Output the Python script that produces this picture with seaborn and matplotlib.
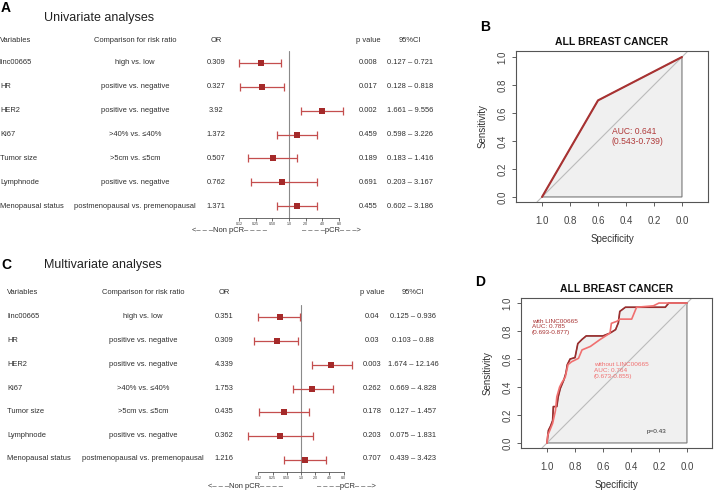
import numpy as np
import pandas as pd
import matplotlib
matplotlib.use("Agg")
import matplotlib.pyplot as plt
import seaborn as sns

# ---- data ----
variables = ["linc00665", "HR", "HER2", "Ki67", "Tumor size", "Lymphnode", "Menopausal status"]
comparisons = ["high vs. low", "positive vs. negative", "positive vs. negative",
               ">40% vs. \u226440%", ">5cm vs. \u22645cm", "positive vs. negative",
               "postmenopausal vs. premenopausal"]

uni_or = [0.309, 0.327, 3.92, 1.372, 0.507, 0.762, 1.371]
uni_lo = [0.127, 0.128, 1.661, 0.598, 0.183, 0.203, 0.602]
uni_hi = [0.721, 0.818, 9.556, 3.226, 1.416, 3.167, 3.186]
uni_p = ["0.008", "0.017", "0.002", "0.459", "0.189", "0.691", "0.455"]

multi_or = [0.351, 0.309, 4.339, 1.753, 0.435, 0.362, 1.216]
multi_lo = [0.125, 0.103, 1.674, 0.669, 0.127, 0.075, 0.439]
multi_hi = [0.936, 0.88, 12.146, 4.828, 1.457, 1.831, 3.423]
multi_p = ["0.04", "0.03", "0.003", "0.262", "0.178", "0.203", "0.707"]

or_ticks = [0.125, 0.25, 0.5, 1, 2, 4, 8]
or_tick_labels = ["0.12", "0.25", "0.50", "1.0", "2.0", "4.0", "8.0"]

# ROC panel B
b_spec = [1.0, 0.6, 0.0]
b_sens = [0.0, 0.69, 1.0]

# ROC panel D
with_spec = [1.0, 0.99, 0.975, 0.96, 0.955, 0.93, 0.92, 0.905, 0.88, 0.865, 0.855,
             0.835, 0.80, 0.78, 0.75, 0.72, 0.60, 0.55, 0.51, 0.49, 0.48, 0.44,
             0.36, 0.155, 0.13, 0.0]
with_sens = [0.0, 0.09, 0.12, 0.16, 0.26, 0.26, 0.33, 0.39, 0.45, 0.50, 0.56,
             0.60, 0.61, 0.71, 0.74, 0.765, 0.765, 0.785, 0.81, 0.86, 0.94, 0.97,
             0.97, 0.97, 1.0, 1.0]
without_spec = [1.0, 0.995, 0.98, 0.96, 0.94, 0.93, 0.91, 0.895, 0.87, 0.85, 0.825,
                0.775, 0.75, 0.69, 0.62, 0.55, 0.54, 0.50, 0.48, 0.395, 0.36, 0.24,
                0.20, 0.0]
without_sens = [0.0, 0.055, 0.09, 0.14, 0.23, 0.33, 0.40, 0.43, 0.47, 0.56, 0.58,
                0.605, 0.665, 0.69, 0.74, 0.785, 0.855, 0.87, 0.885, 0.885, 0.97, 0.98,
                1.0, 1.0]

# ---- style ----
sns.set_theme(style="white")
plt.rcParams["font.family"] = ["Liberation Sans", "DejaVu Sans"]

W, H = 714, 493
fig = plt.figure(figsize=(W / 100, H / 100), dpi=100)

TXT = "#2e2e2e"
MARK = "#a52a2a"
CI = "#c44e4e"
DARK = "#a83232"
LIGHT = "#f07070"


def fx(px):
    return px / W


def fy(py):
    return 1 - py / H


def t(px, py, s, **kw):
    kw.setdefault("va", "center")
    kw.setdefault("color", TXT)
    fig.text(fx(px), fy(py), s, **kw)


def rect(left, top, right, bottom):
    return [fx(left), fy(bottom), (right - left) / W, (bottom - top) / H]


def forest_panel(letter, title, title_y, head_y, rows_y, cols, axis, or_, lo, hi, pvals):
    # cols: var_x, comp_x, or_x, p_x, ci_x ; axis: center px, px per doubling, half range, top, bottom
    var_x, comp_x, or_x, p_x, ci_x = cols
    t(letter[1], letter[2], letter[0], fontsize=10, fontweight="bold", color="black")
    t(44, title_y, title, fontsize=9, color="#222222")
    fs = 5.4
    t(var_x, head_y, "Variables", fontsize=fs)
    t(comp_x, head_y, "Comparison for risk ratio", fontsize=fs, ha="center")
    t(or_x, head_y, "OR", fontsize=fs, ha="center")
    t(p_x, head_y, "p value", fontsize=fs, ha="center")
    t(ci_x, head_y, "95%CI", fontsize=fs, ha="center")
    for i in range(len(variables)):
        y = rows_y[0] + i * (rows_y[1] - rows_y[0]) / 6
        t(var_x, y, variables[i], fontsize=fs)
        t(comp_x, y, comparisons[i], fontsize=fs, ha="center")
        t(or_x, y, str(or_[i]), fontsize=fs, ha="center")
        t(p_x, y, pvals[i], fontsize=fs, ha="center")
        t(ci_x, y, f"{lo[i]} \u2013 {hi[i]}", fontsize=fs, ha="center")

    c, d, a, top, bottom = axis
    ax = fig.add_axes(rect(c - a * d, top, c + a * d, bottom))
    df = pd.DataFrame({"row": np.arange(7), "or": or_, "lo": lo, "hi": hi})
    ax.errorbar(df["or"], df["row"],
                xerr=[df["or"] - df["lo"], df["hi"] - df["or"]],
                fmt="none", ecolor=CI, elinewidth=0.9, capsize=2.6, capthick=0.9)
    sns.scatterplot(data=df, x="or", y="row", marker="s", s=16, color=MARK,
                    edgecolor=MARK, linewidth=0, ax=ax, legend=False, zorder=3)
    ax.axvline(1, color="#8a8a8a", lw=0.8, zorder=1)
    ax.set_xscale("log", base=2)
    ax.set_xlim(2 ** -a, 2 ** a)
    ax.set_ylim(6.5, -0.5)
    ax.set_yticks([])
    ax.set_xticks(or_ticks)
    ax.set_xticklabels(or_tick_labels)
    ax.minorticks_off()
    ax.set_xlabel("")
    ax.set_ylabel("")
    ax.patch.set_alpha(0)
    for s in ["left", "right", "top"]:
        ax.spines[s].set_visible(False)
    ax.spines["bottom"].set_bounds(or_ticks[0], or_ticks[-1])
    ax.spines["bottom"].set_linewidth(0.5)
    ax.spines["bottom"].set_color("#333333")
    ax.tick_params(axis="x", length=2, width=0.5, labelsize=2.6, pad=1,
                   colors="#333333", bottom=True)
    return ax


forest_panel(("A", 1, 8), "Univariate analyses", 18, 40, (63, 206),
             (0, 135, 216, 368, 410), (289, 16.67, 3.6, 51, 218),
             uni_or, uni_lo, uni_hi, uni_p)
t(192, 231, "<\u2013 \u2013 \u2013Non pCR\u2013 \u2013 \u2013 \u2013", fontsize=5.4)
t(302, 231, "\u2013 \u2013 \u2013 \u2013pCR\u2013 \u2013 \u2013>", fontsize=5.4)

forest_panel(("C", 1, 265), "Multivariate analyses", 265, 293, (317, 459),
             (7, 143, 224, 372, 413), (301, 14.2, 3.9, 305, 472),
             multi_or, multi_lo, multi_hi, multi_p)
t(208, 487, "<\u2013 \u2013 \u2013Non pCR\u2013 \u2013 \u2013 \u2013", fontsize=5.4)
t(317, 487, "\u2013 \u2013 \u2013 \u2013pCR\u2013 \u2013 \u2013>", fontsize=5.4)


def roc_axes(box, xlim, ylim):
    ax = fig.add_axes(rect(*box))
    ax.set_xlim(xlim)
    ax.set_ylim(ylim)
    ticks = [0, 0.2, 0.4, 0.6, 0.8, 1.0]
    labels = ["0.0", "0.2", "0.4", "0.6", "0.8", "1.0"]
    ax.set_xticks(ticks)
    ax.set_xticklabels(labels)
    ax.set_yticks(ticks)
    ax.set_yticklabels(labels, rotation=90, va="center")
    ax.tick_params(axis="both", length=3, width=0.6, colors="#444444",
                   labelsize=7, left=True, bottom=True, direction="out")
    ax.tick_params(axis="x", pad=7)
    ax.tick_params(axis="y", pad=3)
    for s in ax.spines.values():
        s.set_color("#555555")
        s.set_linewidth(0.8)
    ax.set_title("ALL BREAST CANCER", fontsize=7.5, fontweight="bold", pad=4,
                 color="#111111")
    ax.axline((1, 0), (0, 1), color="#bbbbbb", lw=0.8, zorder=2)
    return ax


# Panel B
t(480, 27, "B", fontsize=10, fontweight="bold", color="black")
axb = roc_axes((516, 51, 708, 202), (1.186, -0.186), (-0.036, 1.043))
axb.fill(b_spec + [0.0, 1.0], b_sens + [0.0, 0.0], facecolor="#f0f0f0",
         edgecolor="#777777", lw=0.8, zorder=1)
sns.lineplot(x=b_spec, y=b_sens, sort=False, estimator=None, color=DARK, lw=1.5,
             ax=axb, zorder=3)
axb.text(0.5, 0.432, "AUC: 0.641\n(0.543-0.739)", color="#b03a3a", fontsize=6.2,
         ha="left", va="center", linespacing=1.15)
axb.set_xlabel("Specificity", fontsize=7, color="#333333", labelpad=6)
axb.set_ylabel("Sensitivity", fontsize=7, color="#333333", labelpad=7)

# Panel D
t(475, 282, "D", fontsize=10, fontweight="bold", color="black")
axd = roc_axes((521, 298, 712, 448), (1.186, -0.179), (-0.036, 1.036))
axd.fill(with_spec + [0.0, 1.0], with_sens + [0.0, 0.0], facecolor="#f0f0f0",
         edgecolor="#777777", lw=0.8, zorder=1)
sns.lineplot(x=with_spec, y=with_sens, sort=False, estimator=None, color="#9b2d2d",
             lw=1.2, ax=axd, zorder=3)
sns.lineplot(x=without_spec, y=without_sens, sort=False, estimator=None, color=LIGHT,
             lw=1.2, ax=axd, zorder=4)
axd.text(1.107, 0.83, "with LINC00665\nAUC: 0.785\n(0.693-0.877)", color="#a83232",
         fontsize=4.6, ha="left", va="center", linespacing=1.2)
axd.text(0.664, 0.52, "without LINC00665\nAUC: 0.764\n(0.673-0.855)", color=LIGHT,
         fontsize=4.6, ha="left", va="center", linespacing=1.2)
axd.text(0.286, 0.08, "p=0.43", color="#333333", fontsize=4.6, ha="left", va="center")
axd.set_xlabel("Specificity", fontsize=7, color="#333333", labelpad=6)
axd.set_ylabel("Sensitivity", fontsize=7, color="#333333", labelpad=7)

fig.savefig("out.png", dpi=100)
